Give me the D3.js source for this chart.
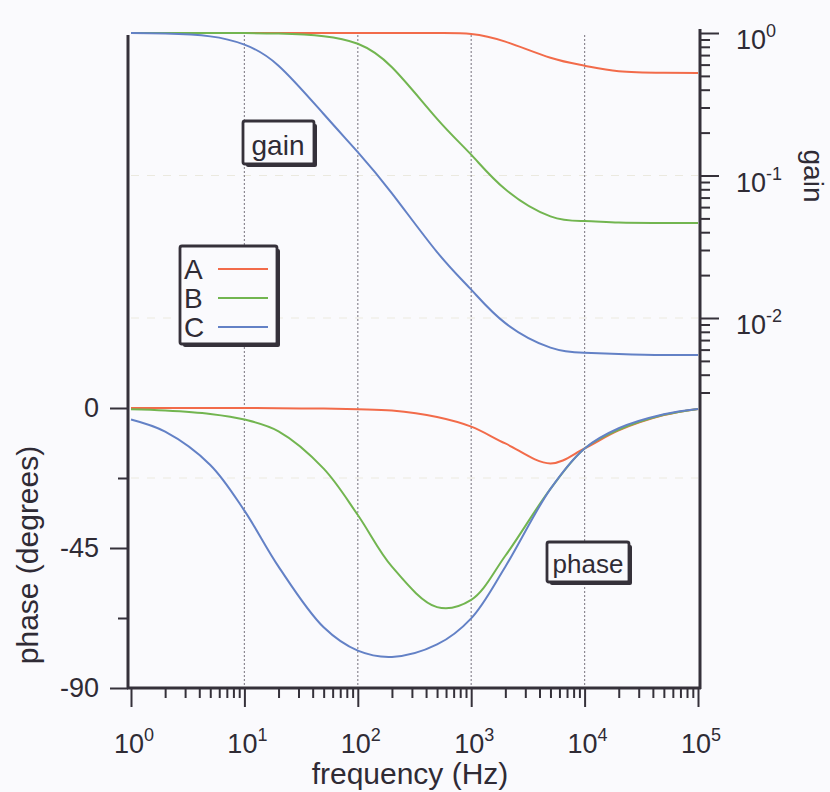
<!doctype html>
<html lang="en">
<head>
<meta charset="utf-8">
<script src="https://d3js.org/d3.v7.min.js"></script>
<style>
  body { margin: 0; background: #fafafd; }
  text { font-family: "Liberation Sans", Arial, sans-serif; fill: #2f2b35; }
</style>
</head>
<body>
<svg width="830" height="792"></svg>
<script>
// frequencies (Hz) the curves were read at
var freq = [1, 2, 5, 10, 20, 50, 100, 200, 500, 1000, 2000, 5000, 10000, 20000, 50000, 100000];

// gain (linear) per series
var gainA = [1, 1, 1, 1, 1, 1, 1, 1, 0.998, 0.985, 0.87, 0.67, 0.59, 0.54, 0.527, 0.524];
var gainB = [1, 1, 1, 0.998, 0.99, 0.95, 0.84, 0.575, 0.25, 0.14, 0.08, 0.0517, 0.048, 0.0468, 0.0465, 0.0464];
var gainC = [0.998, 0.991, 0.947, 0.829, 0.59, 0.27, 0.146, 0.075, 0.029, 0.0158, 0.0092, 0.0062, 0.0057, 0.0056, 0.0055, 0.0055];

// phase (degrees) per series
var phaseA = [0, 0, 0, 0, -0.1, -0.2, -0.4, -0.8, -2.9, -6, -11.4, -17.8, -13, -7.2, -2.3, -0.3];
var phaseB = [-0.4, -0.8, -1.9, -3.7, -7.5, -19.5, -34.4, -51, -64, -61.7, -47.5, -26, -13, -7, -2.2, -0.3];
var phaseC = [-3.7, -7.6, -18.3, -33, -51, -70.5, -78, -80, -76, -67.6, -51, -26, -13, -6.5, -2, -0.3];

var seriesNames = ['A', 'B', 'C'];
var seriesColors = ['#f26b4a', '#72b550', '#6381c6'];

var freqTicks = [1, 10, 100, 1000, 10000, 100000];
var gainTicks = [1, 0.1, 0.01];
var phaseTicks = [0, -45, -90];
var phaseMinor = [-22.5, -67.5];

var ink = '#35313a';
var svg = d3.select('svg');

svg.append('rect').attr('width', 830).attr('height', 792).attr('fill', '#fafafd');

var x = d3.scaleLog().domain([1, 1e5]).range([131, 698]);
var yGain = d3.scaleLog().domain([1, 0.01]).range([33, 318]);
var yPhase = d3.scaleLinear().domain([0, -90]).range([408, 688]);

// faint horizontal grid
[yGain(0.1), yGain(0.01), yPhase(-22.5)].forEach(function(yy){
  svg.append('line')
    .attr('x1', 131).attr('x2', 698).attr('y1', yy).attr('y2', yy)
    .style('stroke', '#ebe9df').style('stroke-width', 1.2)
    .style('stroke-dasharray', '8,8');
});

// vertical dotted grid
svg.selectAll('.vgrid')
  .data(freqTicks.slice(1, 5))
  .enter()
  .append('line')
  .attr('class', 'vgrid')
  .attr('x1', function(d){ return x(d); })
  .attr('x2', function(d){ return x(d); })
  .attr('y1', 35).attr('y2', 688)
  .style('stroke', '#8c8892').style('stroke-width', 1.2)
  .style('stroke-dasharray', '2,2');

// curves
var phaseLine = d3.line()
  .x(function(d){ return x(d[0]); })
  .y(function(d){ return yPhase(d[1]); })
  .curve(d3.curveCatmullRom.alpha(0.5));
var gainLine = d3.line()
  .x(function(d){ return x(d[0]); })
  .y(function(d){ return yGain(d[1]); })
  .curve(d3.curveNatural);

var phases = [phaseA, phaseB, phaseC];
var gains = [gainA, gainB, gainC];
for (var s = 0; s < 3; s++) {
  svg.append('path')
    .datum(freq.map(function(f, i){ return [f, phases[s][i]]; }))
    .attr('d', phaseLine)
    .attr('fill', 'none')
    .attr('stroke', seriesColors[s])
    .attr('stroke-width', 2);
  svg.append('path')
    .datum(freq.map(function(f, i){ return [f, gains[s][i]]; }))
    .attr('d', gainLine)
    .attr('fill', 'none')
    .attr('stroke', seriesColors[s])
    .attr('stroke-width', 2);
}

// axis lines
svg.append('line').attr('x1', 128).attr('x2', 128).attr('y1', 35).attr('y2', 689)
  .style('stroke', ink).style('stroke-width', 3);
svg.append('line').attr('x1', 127).attr('x2', 701).attr('y1', 688).attr('y2', 688)
  .style('stroke', ink).style('stroke-width', 3);
svg.append('line').attr('x1', 700).attr('x2', 700).attr('y1', 29).attr('y2', 689)
  .style('stroke', ink).style('stroke-width', 3);

function styleTicks(g) {
  g.select('.domain').remove();
  g.selectAll('.tick line').style('stroke', ink).style('stroke-width', 2);
}

// bottom axis ticks
var freqMinor = [];
for (var e = 0; e < 5; e++) for (var m = 2; m < 10; m++) freqMinor.push(m * Math.pow(10, e));
svg.append('g').attr('transform', 'translate(0,688)')
  .call(d3.axisBottom(x).tickValues(freqTicks).tickSize(19).tickFormat(''))
  .call(styleTicks);
svg.append('g').attr('transform', 'translate(0,688)')
  .call(d3.axisBottom(x).tickValues(freqMinor).tickSize(10).tickFormat(''))
  .call(styleTicks);

var xl = svg.selectAll('.xlab')
  .data(freqTicks)
  .enter()
  .append('text')
  .attr('class', 'xlab')
  .attr('x', function(d){ return x(d) + 3; })
  .attr('y', 753)
  .attr('text-anchor', 'middle')
  .attr('font-size', 27);
xl.append('tspan').text('10');
xl.append('tspan').attr('dy', -12).attr('font-size', 18)
  .text(function(d){ return Math.round(Math.log10(d)); });

// left phase axis
svg.append('g').attr('transform', 'translate(128,0)')
  .call(d3.axisLeft(yPhase).tickValues(phaseTicks).tickSize(18).tickPadding(11)
    .tickFormat(function(d){ return d; }))
  .call(styleTicks)
  .selectAll('text')
  .attr('font-size', 27)
  .attr('font-family', '"Liberation Sans", Arial, sans-serif')
  .style('fill', '#2f2b35');
svg.append('g').attr('transform', 'translate(128,0)')
  .call(d3.axisLeft(yPhase).tickValues(phaseMinor).tickSize(10).tickFormat(''))
  .call(styleTicks);

// right gain axis
var gainMinor = [];
[1, 0.1, 0.01].forEach(function(dec){
  for (var m = 2; m < 10; m++) {
    var v = m * dec / 10;
    if (v >= 0.003) gainMinor.push(v);
  }
});
svg.append('g').attr('transform', 'translate(700,0)')
  .call(d3.axisRight(yGain).tickValues(gainTicks).tickSize(19).tickFormat(''))
  .call(styleTicks);
svg.append('g').attr('transform', 'translate(700,0)')
  .call(d3.axisRight(yGain).tickValues(gainMinor).tickSize(10).tickFormat(''))
  .call(styleTicks);

var yl = svg.selectAll('.ylab')
  .data(gainTicks)
  .enter()
  .append('text')
  .attr('class', 'ylab')
  .attr('x', 736)
  .attr('y', function(d){ return yGain(d) + 16; })
  .attr('font-size', 27);
yl.append('tspan').text('10');
yl.append('tspan').attr('dy', -12).attr('font-size', 18)
  .text(function(d){ return Math.round(Math.log10(d)); });

// axis titles
svg.append('text').attr('x', 410).attr('y', 784).attr('text-anchor', 'middle')
  .attr('font-size', 30).text('frequency (Hz)');
svg.append('text').attr('transform', 'translate(38,555) rotate(-90)')
  .attr('text-anchor', 'middle').attr('font-size', 30).text('phase (degrees)');
svg.append('text').attr('transform', 'translate(804,176) rotate(90)')
  .attr('text-anchor', 'middle').attr('font-size', 28).text('gain');

// boxed annotations
function box(bx, by, bw, bh) {
  svg.append('rect').attr('x', bx + 3).attr('y', by + 3).attr('width', bw).attr('height', bh)
    .attr('rx', 2).attr('fill', ink);
  svg.append('rect').attr('x', bx).attr('y', by).attr('width', bw).attr('height', bh)
    .attr('rx', 2).attr('fill', '#fafafd').attr('stroke', ink).attr('stroke-width', 2.8);
}

box(243, 121, 71, 43);
svg.append('text').attr('x', 278).attr('y', 155).attr('text-anchor', 'middle')
  .attr('font-size', 28).text('gain');

box(547, 542, 82, 40);
svg.append('text').attr('x', 588).attr('y', 573).attr('text-anchor', 'middle')
  .attr('font-size', 26).text('phase');

// legend
box(180, 246, 97, 98);
var leg = svg.selectAll('.leg')
  .data(seriesNames)
  .enter()
  .append('g')
  .attr('class', 'leg')
  .attr('transform', function(d, i){ return 'translate(0,' + (i * 29) + ')'; });
leg.append('text').attr('x', 184).attr('y', 279).attr('font-size', 28)
  .text(function(d){ return d; });
leg.append('line').attr('x1', 218).attr('x2', 268).attr('y1', 269).attr('y2', 269)
  .style('stroke', function(d, i){ return seriesColors[i]; })
  .style('stroke-width', 2);
</script>
</body>
</html>
